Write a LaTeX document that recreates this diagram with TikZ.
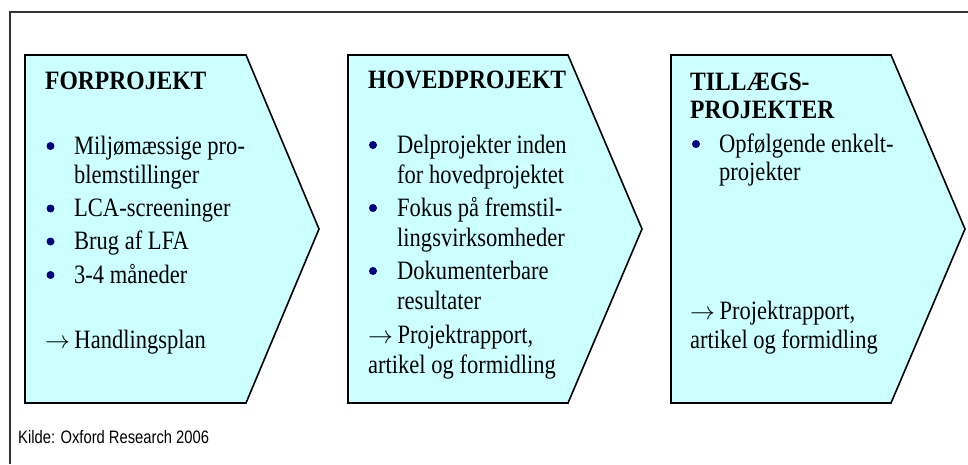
\documentclass[tikz,border=0pt]{standalone}
\usepackage{fontspec}
\setmainfont[FakeStretch=0.85,BoldFeatures={FakeStretch=0.89}]{Liberation Serif}
\newfontfamily\kildefont[FakeStretch=0.82]{Liberation Sans}
\definecolor{boxfill}{HTML}{CCFFFF}
\definecolor{bulletblue}{HTML}{000080}
\newcommand{\resarrow}{$\rightarrow$}
\begin{document}
\begin{tikzpicture}[x=1pt,y=-1pt,
  chev/.style={draw=black, fill=boxfill, line width=1.6pt, line join=miter},
  frameline/.style={draw=black!80, line width=1.2pt},
  txt/.style={anchor=base west, inner sep=0pt, font=\fontsize{26.5}{30}\selectfont},
  head/.style={anchor=base west, inner sep=0pt, font=\fontsize{26.5}{30}\selectfont\bfseries},
  dot/.style={circle, fill=bulletblue, inner sep=0pt, minimum size=8pt},
  src/.style={anchor=base west, inner sep=0pt, font=\kildefont\fontsize{18}{20}\selectfont}]
\useasboundingbox (0,0) rectangle (968,464);
\fill[white] (0,0) rectangle (968,464);
% outer frame (only left and top edges visible)
\coordinate (fbl) at (10,464);
\coordinate (ftl) at (10,12);
\coordinate (ftr) at (968,12);
\draw[frameline] (fbl) -- (ftl) -- (ftr);
% chevrons
\draw[chev] (25,55) -- (246,55) -- (319,229) -- (246,403) -- (25,403) -- cycle;
\draw[chev] (348,55) -- (568,55) -- (642,229) -- (568,403) -- (348,403) -- cycle;
\draw[chev] (671,55) -- (891,55) -- (965,229) -- (891,403) -- (671,403) -- cycle;
% box 1
\node[head] (h1) at (45,89) {FORPROJEKT};
\node[dot] (d11) at (50.5,146) {};
\node[txt] (t11a) at (74,154) {Miljømæssige pro-};
\node[txt] (t11b) at (74,183) {blemstillinger};
\node[dot] (d12) at (50.5,208.5) {};
\node[txt] (t12) at (74,216.5) {LCA-screeninger};
\node[dot] (d13) at (50.5,241.5) {};
\node[txt] (t13) at (74,249.5) {Brug af LFA};
\node[dot] (d14) at (50.5,275) {};
\node[txt] (t14) at (74,283) {3-4 måneder};
\node[txt] (r1) at (45,348) {\resarrow\,Handlingsplan};
% box 2
\node[head] (h2) at (368,88) {HOVEDPROJEKT};
\node[dot] (d21) at (373,145) {};
\node[txt] (t21a) at (397,153) {Delprojekter inden};
\node[txt] (t21b) at (397,183) {for hovedprojektet};
\node[dot] (d22) at (373,208) {};
\node[txt] (t22a) at (397,216) {Fokus på fremstil-};
\node[txt] (t22b) at (397,246) {lingsvirksomheder};
\node[dot] (d23) at (373,271) {};
\node[txt] (t23a) at (397,279) {Dokumenterbare};
\node[txt] (t23b) at (397,309) {resultater};
\node[txt] (r2a) at (368,343) {\resarrow\,Projektrapport,};
\node[txt] (r2b) at (368,373) {artikel og formidling};
% box 3
\node[head] (h3a) at (690,90) {TILLÆGS-};
\node[head] (h3b) at (690,118) {PROJEKTER};
\node[dot] (d31) at (696,144) {};
\node[txt] (t31a) at (719,152) {Opfølgende enkelt-};
\node[txt] (t31b) at (719,180) {projekter};
\node[txt] (r3a) at (690,319) {\resarrow\,Projektrapport,};
\node[txt] (r3b) at (690,348) {artikel og formidling};
% source
\node[src] (kilde) at (18,443) {Kilde: Oxford Research 2006};
\end{tikzpicture}
\end{document}
